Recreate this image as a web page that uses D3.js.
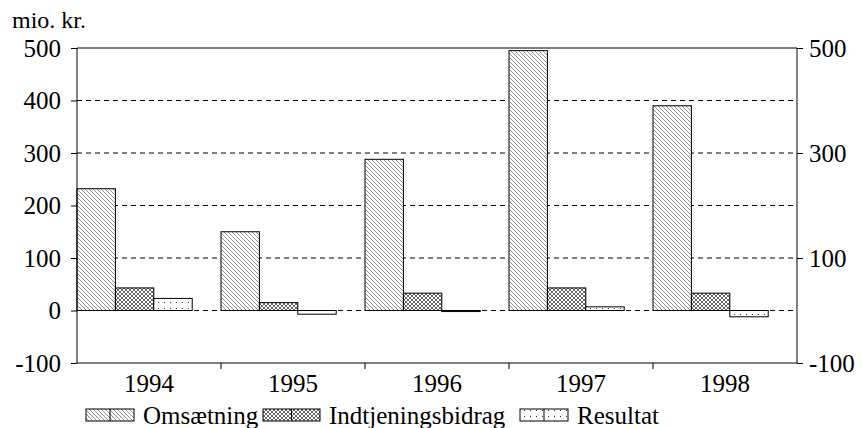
<!DOCTYPE html>
<html><head><meta charset="utf-8">
<script src="https://cdn.jsdelivr.net/npm/d3@7"></script>
<style>body{margin:0;background:#fff}svg{display:block}text{font-family:"Liberation Serif","Times New Roman",serif;fill:#000}</style>
</head><body><svg id="c" width="862" height="428"></svg>
<script>
const years = ["1994","1995","1996","1997","1998"];
const seriesNames = ["Omsætning","Indtjeningsbidrag","Resultat"];
const omsaetning = [232, 150, 288, 495, 390];
const indtjeningsbidrag = [43, 15, 33, 43, 33];
const resultat = [23, -7, -2, 7, -12];
const leftTicks = [-100, 0, 100, 200, 300, 400, 500];
const rightTicks = [-100, 100, 300, 500];
const unitLabel = "mio. kr.";

const values = [omsaetning, indtjeningsbidrag, resultat];
const svg = d3.select("#c");
const W = 862, H = 428;
const m = {l:77, r:65, t:48, b:65};
const x = d3.scaleBand().domain(years).range([m.l, W-m.r]).padding(0);
const x1 = d3.scaleBand().domain(seriesNames).range([0, x.bandwidth()*0.8]).padding(0);
const y = d3.scaleLinear().domain([-100, 500]).range([H-m.b, m.t]);
const fmt = d => String(d);

// patterns
const defs = svg.append("defs");
const p0 = defs.append("pattern").attr("id","pat0").attr("patternUnits","userSpaceOnUse").attr("width",4).attr("height",4);
p0.append("rect").attr("width",4).attr("height",4).attr("fill","#fff");
p0.append("path").attr("d","M-1,-1 L5,5 M-1,3 L1,5 M3,-1 L5,1").attr("stroke","#888").attr("stroke-width",0.9);
const p1 = defs.append("pattern").attr("id","pat1").attr("patternUnits","userSpaceOnUse").attr("width",4).attr("height",4);
p1.append("rect").attr("width",4).attr("height",4).attr("fill","#fff");
p1.append("path").attr("d","M0,0 L4,4 M0,4 L4,0").attr("stroke","#555").attr("stroke-width",0.9);
const p2 = defs.append("pattern").attr("id","pat2").attr("patternUnits","userSpaceOnUse").attr("width",6).attr("height",6);
p2.append("rect").attr("width",6).attr("height",6).attr("fill","#fff");
p2.append("rect").attr("x",2).attr("y",2).attr("width",1).attr("height",1).attr("fill","#333");

// gridlines
const grid = svg.append("g");
grid.selectAll("line").data(leftTicks.filter(d=>d>-100 && d<500)).join("line")
  .attr("x1", m.l).attr("x2", W-m.r).attr("y1", d=>y(d)).attr("y2", d=>y(d))
  .attr("stroke","#000").attr("stroke-width",1).attr("stroke-dasharray","5,4");
grid.append("line").attr("x1", m.l).attr("x2", W-m.r).attr("y1", y(500)).attr("y2", y(500))
  .attr("stroke","#000").attr("stroke-width",1);

// bars
const g = svg.append("g");
years.forEach((yr, i) => {
  seriesNames.forEach((s, j) => {
    const v = values[j][i];
    g.append("rect")
      .attr("x", x(yr) + x1(s))
      .attr("y", y(Math.max(0, v)))
      .attr("width", x1.bandwidth())
      .attr("height", Math.abs(y(v) - y(0)))
      .attr("fill", `url(#pat${j})`)
      .attr("stroke", "#000").attr("stroke-width", 1);
  });
});

// axes
const fs = 25;
const axL = svg.append("g").attr("transform", `translate(${m.l},0)`)
  .call(d3.axisLeft(y).tickValues(leftTicks).tickFormat(fmt).tickSize(6).tickPadding(10));
const axR = svg.append("g").attr("transform", `translate(${W-m.r},0)`)
  .call(d3.axisRight(y).tickValues(rightTicks).tickFormat(fmt).tickSize(6).tickPadding(6));
const axB = svg.append("g").attr("transform", `translate(0,${H-m.b})`)
  .call(d3.axisBottom(x).tickSize(0).tickPadding(11));
svg.append("g").selectAll("line").data(years.slice(1)).join("line")
  .attr("x1", d=>x(d)).attr("x2", d=>x(d)).attr("y1", H-m.b).attr("y2", H-m.b+6).attr("stroke","#000");
[axL, axR, axB].forEach(a => {
  a.attr("font-family", null).attr("font-size", null);
  a.selectAll("path.domain").attr("stroke","#000").attr("stroke-width",1);
  a.selectAll(".tick line").attr("stroke","#000");
  a.selectAll("text").style("font-family",'"Liberation Serif",serif').style("font-size", fs+"px").attr("fill","#000");
});
axL.select("path.domain").attr("d", `M0,${y(500)}V${y(-100)}`);
axR.select("path.domain").attr("d", `M0,${y(500)}V${y(-100)}`);
axB.select("path.domain").attr("d", `M${m.l},0H${W-m.r}`);

svg.append("text").attr("x", 12).attr("y", 28).style("font-size", "24px").text(unitLabel);

// legend
const leg = svg.append("g");
const legX = [86, 263, 520];
const legW = [48, 57, 48];
seriesNames.forEach((s, j) => {
  leg.append("rect").attr("x", legX[j]).attr("y", 409).attr("width", legW[j]).attr("height", 12)
    .attr("fill", `url(#pat${j})`).attr("stroke","#000").attr("stroke-width",1);
  leg.append("line").attr("x1", legX[j]+legW[j]/2).attr("x2", legX[j]+legW[j]/2).attr("y1",409).attr("y2",421).attr("stroke","#000");
  leg.append("text").attr("x", legX[j]+legW[j]+9).attr("y", 424).style("font-size", fs+"px").text(s);
});
</script></body></html>
